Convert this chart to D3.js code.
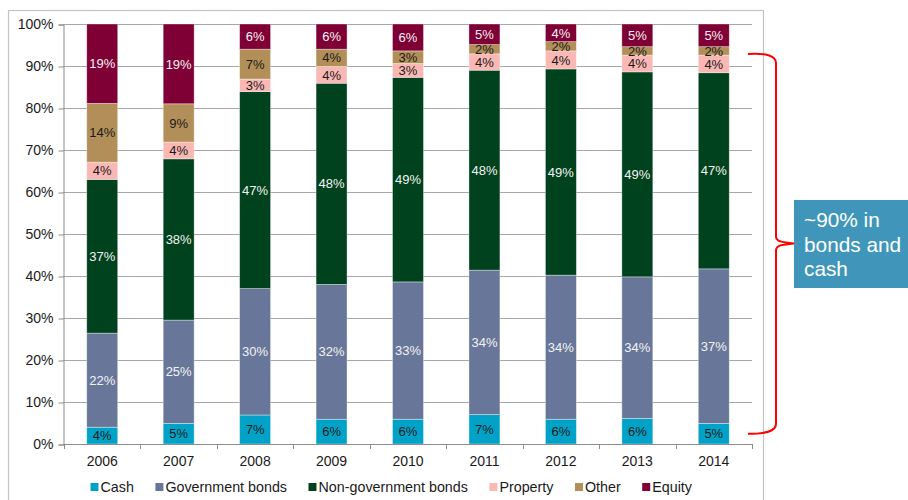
<!DOCTYPE html>
<html><head><meta charset="utf-8">
<script src="https://cdn.jsdelivr.net/npm/d3@7"></script>
<style>
html,body{margin:0;padding:0;background:#fff;}
svg{display:block;font-family:"Liberation Sans",Arial,sans-serif;}
</style></head>
<body><svg id="c" width="908" height="500"></svg>
<script>
const years = ["2006","2007","2008","2009","2010","2011","2012","2013","2014"];
const seriesNames = ["Cash","Government bonds","Non-government bonds","Property","Other","Equity"];
const cash     = [4.0, 4.9, 6.9, 5.9, 5.9, 7.0, 5.9, 6.1, 4.9];
const govBonds = [22.4, 24.6, 30.1, 32.1, 32.7, 34.4, 34.3, 33.7, 36.8];
const nonGov   = [36.6, 38.4, 46.9, 47.9, 48.7, 47.6, 49.1, 48.8, 46.7];
const property = [4.1, 4.0, 3.0, 4.0, 3.3, 3.9, 4.3, 4.0, 4.2];
const other    = [14.0, 9.1, 7.1, 4.1, 3.0, 2.2, 2.2, 2.0, 2.0];
const equity   = [18.9, 19.0, 6.0, 6.0, 6.4, 4.9, 4.2, 5.4, 5.4];
const yTicks = [0,10,20,30,40,50,60,70,80,90,100];
const noteLines = ["~90% in","bonds and","cash"];

const colors = ["#00A3C7","#687799","#00421D","#FAB8B5","#B28F58","#7F0035"];
const labelColors = ["#1a1a1a","#f2f2f2","#f2f2f2","#1a1a1a","#1a1a1a","#f2f2f2"];
const allSeries = [cash, govBonds, nonGov, property, other, equity];

const svg = d3.select("#c");
// outer frame
svg.append("rect").attr("x",8.5).attr("y",10.5).attr("width",755).attr("height",520)
  .attr("fill","none").attr("stroke","#c4c4c4").attr("stroke-width",1.2);

const pLeft = 63, pRight = 752, pTop = 24, pBottom = 444;
const x = d3.scaleBand().domain(years).range([pLeft+1, pRight]).paddingInner(0.595).paddingOuter(0.2975);
const y = d3.scaleLinear().domain([0,100]).range([pBottom, pTop]);

// gridlines
svg.append("g").selectAll("line").data(yTicks.filter(t=>t>0)).join("line")
  .attr("x1",pLeft).attr("x2",pRight).attr("y1",d=>Math.round(y(d))+0.5).attr("y2",d=>Math.round(y(d))+0.5)
  .attr("stroke","#a6a6a6").attr("stroke-width",1);

// y axis
const yAxis = d3.axisLeft(y).tickValues(yTicks).tickFormat(d=>d+"%").tickSize(5).tickPadding(5);
const gy = svg.append("g").attr("transform",`translate(${pLeft+0.5},0.5)`).call(yAxis);
gy.select(".domain").attr("stroke","#8c8c8c");
gy.selectAll(".tick line").attr("stroke","#8c8c8c");
gy.selectAll("text").attr("font-size",14).attr("fill","#1a1a1a").attr("font-family","Liberation Sans, Arial, sans-serif");

// stacked data
const table = years.map((yr,i)=>{ const o={year:yr}; seriesNames.forEach((s,k)=>o[s]=allSeries[k][i]); return o; });
const stack = d3.stack().keys(seriesNames)(table);

stack.forEach((layer,k)=>{
  const g = svg.append("g");
  g.selectAll("rect").data(layer).join("rect")
    .attr("x",d=>x(d.data.year)).attr("width",x.bandwidth())
    .attr("y",d=>y(d[1])).attr("height",d=>y(d[0])-y(d[1]))
    .attr("fill",colors[k]).attr("stroke","#ffffff").attr("stroke-opacity",0.45).attr("stroke-width",0.8);
});
stack.forEach((layer,k)=>{
  svg.append("g").selectAll("text").data(layer).join("text")
    .attr("x",d=>x(d.data.year)+x.bandwidth()/2)
    .attr("y",d=>(y(d[0])+y(d[1]))/2)
    .attr("dy","0.36em").attr("text-anchor","middle")
    .attr("font-size",13).attr("fill",labelColors[k])
    .text(d=>Math.round(d[1]-d[0])+"%");
});

// x axis
const xAxisLine = svg.append("g");
xAxisLine.append("line").attr("x1",pLeft).attr("x2",pRight).attr("y1",pBottom+0.5).attr("y2",pBottom+0.5).attr("stroke","#8c8c8c");
const bounds = years.map(yr=>x(yr)-x.step()*x.paddingInner()/2 ).concat([x(years[years.length-1])+x.bandwidth()+x.step()*x.paddingInner()/2]);
xAxisLine.selectAll("line.t").data(bounds).join("line").attr("class","t")
  .attr("x1",d=>Math.round(d)+0.5).attr("x2",d=>Math.round(d)+0.5).attr("y1",pBottom).attr("y2",pBottom+5).attr("stroke","#8c8c8c");
svg.append("g").selectAll("text").data(years).join("text")
  .attr("x",d=>x(d)+x.bandwidth()/2).attr("y",461).attr("dy","0.36em").attr("text-anchor","middle")
  .attr("font-size",14).attr("fill","#1a1a1a").text(d=>d);

// legend
const lg = svg.append("g");
let lx = 90.5;
seriesNames.forEach((s,k)=>{
  lg.append("rect").attr("x",lx).attr("y",483).attr("width",8).attr("height",8).attr("fill",colors[k]);
  const t = lg.append("text").attr("x",lx+10).attr("y",487).attr("dy","0.36em").attr("font-size",14.3).attr("fill","#1a1a1a").text(s);
  lx += 10 + t.node().getComputedTextLength() + 21.5;
});

// brace annotation
const bTop = y(92.6), bBot = y(2.9), bMid = y(48);
const bx = 776;
const path = d3.path();
path.moveTo(748, bTop-1);
path.bezierCurveTo(765, bTop-2, bx, bTop, bx, bTop+8);
path.lineTo(bx, bMid-6);
path.bezierCurveTo(bx, bMid-1, 782, bMid, 794, bMid+1);
path.bezierCurveTo(782, bMid+2, bx, bMid+3, bx, bMid+8);
path.lineTo(bx, bBot-8);
path.bezierCurveTo(bx, bBot, 765, bBot+2, 748, bBot+2);
svg.append("path").attr("d",path.toString()).attr("fill","none").attr("stroke","#ff0000").attr("stroke-width",2);

svg.append("rect").attr("x",794).attr("y",200).attr("width",114).attr("height",88).attr("fill","#4096BA");
svg.append("g").selectAll("text").data(noteLines).join("text")
  .attr("x",804).attr("y",(d,i)=>227+i*24.5).attr("font-size",20.8).attr("fill","#ffffff").text(d=>d);
</script></body></html>
